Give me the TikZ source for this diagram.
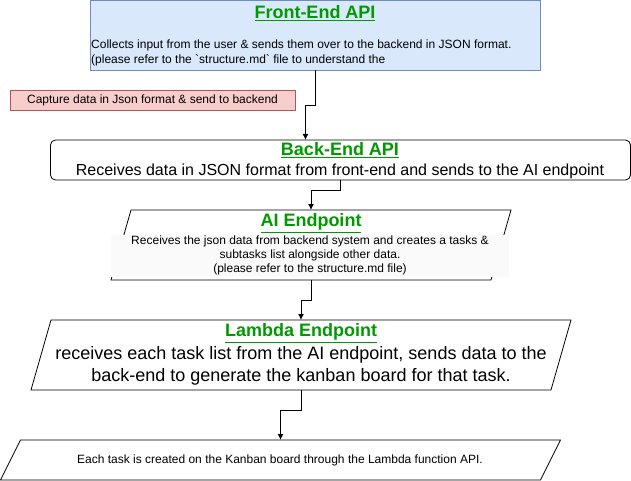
\documentclass[tikz,border=0pt]{standalone}
\usepackage{fontspec}
\setmainfont{Liberation Sans}
\usetikzlibrary{arrows.meta,calc}
\definecolor{feFill}{HTML}{DAE8FC}
\definecolor{feLine}{HTML}{6C8EBF}
\definecolor{redFill}{HTML}{F8CECC}
\definecolor{redLine}{HTML}{B85450}
\definecolor{titleGreen}{HTML}{009900}
\definecolor{bgGray}{HTML}{FAFAFA}
\tikzset{
  frame/.style={inner sep=0pt, outer sep=0pt},
  ttl/.style={inner sep=0pt, text=titleGreen, font=\fontsize{18}{21}\selectfont\bfseries},
  small/.style={inner sep=0pt, font=\fontsize{12}{14}\selectfont},
  big/.style={inner sep=0pt, font=\fontsize{16}{19}\selectfont},
  large/.style={inner sep=0pt, font=\fontsize{18}{22}\selectfont},
  arr/.style={draw=black, line width=1pt, -{Latex[length=6pt,width=6pt]}},
  outline/.style={draw=black, line width=0.8pt}
}
\begin{document}
\begin{tikzpicture}[x=1pt, y=-1pt]
\useasboundingbox (0,0) rectangle (631,481);
% Front-End API
\node[frame, draw=feLine, fill=feFill, line width=0.8pt, minimum width=450pt, minimum height=70pt, anchor=north west] (fe) at (90.5,0.5) {};
\node[ttl] (feT) at (315,13) {\underline{Front-End API}};
\node[small, anchor=west, align=left, font=\fontsize{12}{15}\selectfont] (feB) at (91,52.5) {Collects input from the user \& sends them over to the backend in JSON format.\\(please refer to the \textasciigrave structure.md\textasciigrave{} file to understand the};
% Red label
\node[frame, draw=redLine, fill=redFill, line width=0.8pt, minimum width=285pt, minimum height=20pt, small] (cap) at (152.5,100) {Capture data in Json format \& send to backend};
% Back-End API
\node[frame, draw=black, line width=0.8pt, rounded corners=5pt, minimum width=580pt, minimum height=40pt, anchor=north west] (be) at (50.5,140) {};
\coordinate (beIn) at ($(be.north west)+(255,0)$);
\node[ttl] (beT) at (340,150) {\underline{Back-End API}};
\node[big] (beB) at (340,171) {Receives data in JSON format from front-end and sends to the AI endpoint};
% AI Endpoint
\node[frame, minimum width=400pt, minimum height=70pt, anchor=north west] (ai) at (111,210) {};
\draw[outline] ($(ai.north west)+(20,0)$) -- (ai.north east) -- ($(ai.south east)+(-20,0)$) -- (ai.south west) -- cycle;
\node[frame, fill=bgGray, minimum width=398pt, minimum height=42pt, anchor=north west] (aiBg) at (111,235) {};
\node[ttl] (aiT) at (311,223) {\underline{AI Endpoint}};
\node[small, align=center] (aiB) at (310,255) {Receives the json data from backend system and creates a tasks \&\\subtasks list alongside other data.\\(please refer to the structure.md file)};
% Lambda Endpoint
\node[frame, minimum width=540pt, minimum height=70pt, anchor=north west] (lam) at (31,320) {};
\draw[outline] ($(lam.north west)+(20,0)$) -- (lam.north east) -- ($(lam.south east)+(-20,0)$) -- (lam.south west) -- cycle;
\node[ttl] (lamT) at (301,333) {\underline{Lambda Endpoint}};
\node[large, align=center] (lamB) at (301,366) {receives each task list from the AI endpoint, sends data to the\\back-end to generate the kanban board for that task.};
% Last
\node[frame, minimum width=560pt, minimum height=40pt, anchor=north west] (fin) at (0.5,440) {};
\draw[outline] ($(fin.north west)+(20,0)$) -- (fin.north east) -- ($(fin.south east)+(-20,0)$) -- (fin.south west) -- cycle;
\node[small] (finT) at (280,460) {Each task is created on the Kanban board through the Lambda function API.};
% Connectors
\draw[arr] (fe.south) -- ++(0,35) -| (beIn);
\draw[arr] (be.south) -- ++(0,10) -| (ai.north);
\draw[arr] (ai.south) -- ++(0,20) -| (lam.north);
\draw[arr] (lam.south) -- ++(0,20) -| (fin.north);
\end{tikzpicture}
\end{document}
